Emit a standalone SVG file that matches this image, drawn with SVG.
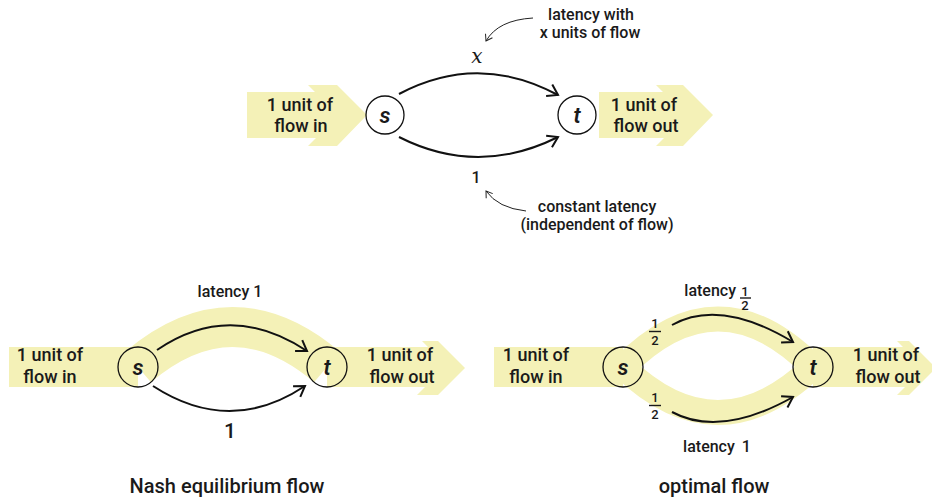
<svg xmlns="http://www.w3.org/2000/svg" width="932" height="499" viewBox="0 0 932 499">
<defs>
<style>
.band{fill:#f4f1b7}
.bandS{fill:none;stroke:#f4f1b7}
.node{fill:none;stroke:#111;stroke-width:1.3}
.edge{fill:none;stroke:#111;stroke-width:2}
.ann{fill:none;stroke:#222;stroke-width:1}
.t{font-family:Roboto,"Liberation Sans",sans-serif;font-weight:500;fill:#1a1a1a;text-anchor:middle}
.big{font-size:18px}
.mid{font-size:16px}
.frac{font-size:13px}
.nl{font-style:italic;font-size:22px;font-weight:600}
.bar{stroke:#1a1a1a;stroke-width:1.4}
</style>
<marker id="ah" markerUnits="userSpaceOnUse" markerWidth="14" markerHeight="20" viewBox="-12 -10 14 20" refX="0" refY="0" orient="auto">
<path d="M-10,-6.5 L0,0 L-10,6.5" fill="none" stroke="#111" stroke-width="2"/>
</marker>
<marker id="ahs" markerUnits="userSpaceOnUse" markerWidth="10" markerHeight="12" viewBox="-8 -6 10 12" refX="0" refY="0" orient="auto">
<path d="M-6,-4 L0,0 L-6,4" fill="none" stroke="#222" stroke-width="1"/>
</marker>
</defs>
<rect width="932" height="499" fill="#fff"/>

<!-- flow bands -->
<g id="flows">
<polygon class="band" points="247,92 315,92 308,85 337,85 367,115 337,146 308,146 316,138 247,138"/>
<polygon class="band" points="599,92 663,92 656,85 683,85 713,115 683,146 656,146 664,138 599,138"/>
<rect class="band" x="9" y="347" width="129" height="40"/>
<path class="bandS" stroke-width="40" d="M138,367 Q232.5,287 327,367"/>
<polygon class="band" points="327,347 428,347 422,341 438,341 465,368 438,395 417,395 425,387 327,387"/>
<rect class="band" x="494" y="347" width="129" height="40"/>
<path class="bandS" stroke-width="25" d="M623,367 Q718,271 813,367"/>
<path class="bandS" stroke-width="25" d="M623,367 Q718,458 813,367"/>
<polygon class="band" points="813,347 903,347 897,341 909,341 936,368 909,395 897,395 905,387 813,387"/>
</g>

<!-- connectors -->
<g id="connectors">
<path class="edge" marker-end="url(#ah)" d="M399,94 Q478,52 558,95"/>
<path class="edge" marker-end="url(#ah)" d="M399,137 Q478,177 558,137"/>
<path class="ann" marker-end="url(#ahs)" d="M533,18 Q498,20 486,41"/>
<path class="ann" marker-end="url(#ahs)" d="M526,211 Q498,208 486,191"/>
<path class="edge" marker-end="url(#ah)" d="M157,350 Q230,300 307,351"/>
<path class="edge" marker-end="url(#ah)" d="M153,386 Q230,436 305,386"/>
<path class="edge" marker-end="url(#ah)" d="M672,325 Q720,298 793,342"/>
<path class="edge" marker-end="url(#ah)" d="M672,412 Q720,438 793,397"/>
</g>

<!-- top diagram -->
<g id="top-in"><text class="t big" x="300" y="111">1 unit of</text><text class="t big" x="301" y="132">flow in</text></g>
<g id="top-out"><text class="t big" x="644" y="111">1 unit of</text><text class="t big" x="646" y="132">flow out</text></g>
<g id="top-s"><circle class="node" cx="385" cy="115" r="19"/><text class="t nl" x="385" y="123">s</text></g>
<g id="top-t"><circle class="node" cx="577" cy="115" r="19"/><text class="t nl" x="577" y="123">t</text></g>
<g id="top-labels">
<text x="477" y="63" style="font-family:'DejaVu Serif',serif;font-style:italic;font-size:20px;fill:#1a1a1a;text-anchor:middle">x</text>
<text class="t mid" x="591" y="20">latency with</text>
<text class="t mid" x="590" y="38">x units of flow</text>
<text class="t mid" x="476" y="183">1</text>
<text class="t mid" x="597" y="212">constant latency</text>
<text class="t mid" x="597" y="230">(independent of flow)</text>
</g>

<!-- Nash equilibrium -->
<g id="nash-in"><text class="t big" x="50" y="361">1 unit of</text><text class="t big" x="50" y="383">flow in</text></g>
<g id="nash-out"><text class="t big" x="400" y="361">1 unit of</text><text class="t big" x="402" y="383">flow out</text></g>
<g id="nash-s"><circle class="node" cx="138" cy="367" r="20"/><text class="t nl" x="138" y="375">s</text></g>
<g id="nash-t"><circle class="node" cx="327" cy="367" r="20"/><text class="t nl" x="327" y="375">t</text></g>
<g id="nash-labels">
<text class="t mid" x="230" y="297">latency 1</text>
<text class="t" x="230" y="438" style="font-size:21px">1</text>
<text class="t" x="227" y="493" style="font-size:20px">Nash equilibrium flow</text>
</g>

<!-- optimal -->
<g id="opt-in"><text class="t big" x="536" y="361">1 unit of</text><text class="t big" x="536" y="383">flow in</text></g>
<g id="opt-out"><text class="t big" x="886" y="361">1 unit of</text><text class="t big" x="888" y="383">flow out</text></g>
<g id="opt-s"><circle class="node" cx="623" cy="367" r="20"/><text class="t nl" x="623" y="375">s</text></g>
<g id="opt-t"><circle class="node" cx="813" cy="367" r="20"/><text class="t nl" x="813" y="375">t</text></g>
<g id="opt-labels">
<text class="t mid" x="736" y="296" style="text-anchor:end">latency</text>
<text class="t frac" x="745" y="295.5">1</text><line class="bar" x1="740" y1="298" x2="751" y2="298"/><text class="t frac" x="745" y="309.5">2</text>
<text class="t frac" x="655" y="328">1</text><line class="bar" x1="649" y1="331.5" x2="661" y2="331.5"/><text class="t frac" x="655" y="345">2</text>
<text class="t frac" x="655" y="402">1</text><line class="bar" x1="649" y1="405.5" x2="661" y2="405.5"/><text class="t frac" x="655" y="419">2</text>
<text class="t mid" x="717" y="452">latency <tspan dx="3">1</tspan></text>
<text class="t" x="714" y="493" style="font-size:20px">optimal flow</text>
</g>
</svg>
